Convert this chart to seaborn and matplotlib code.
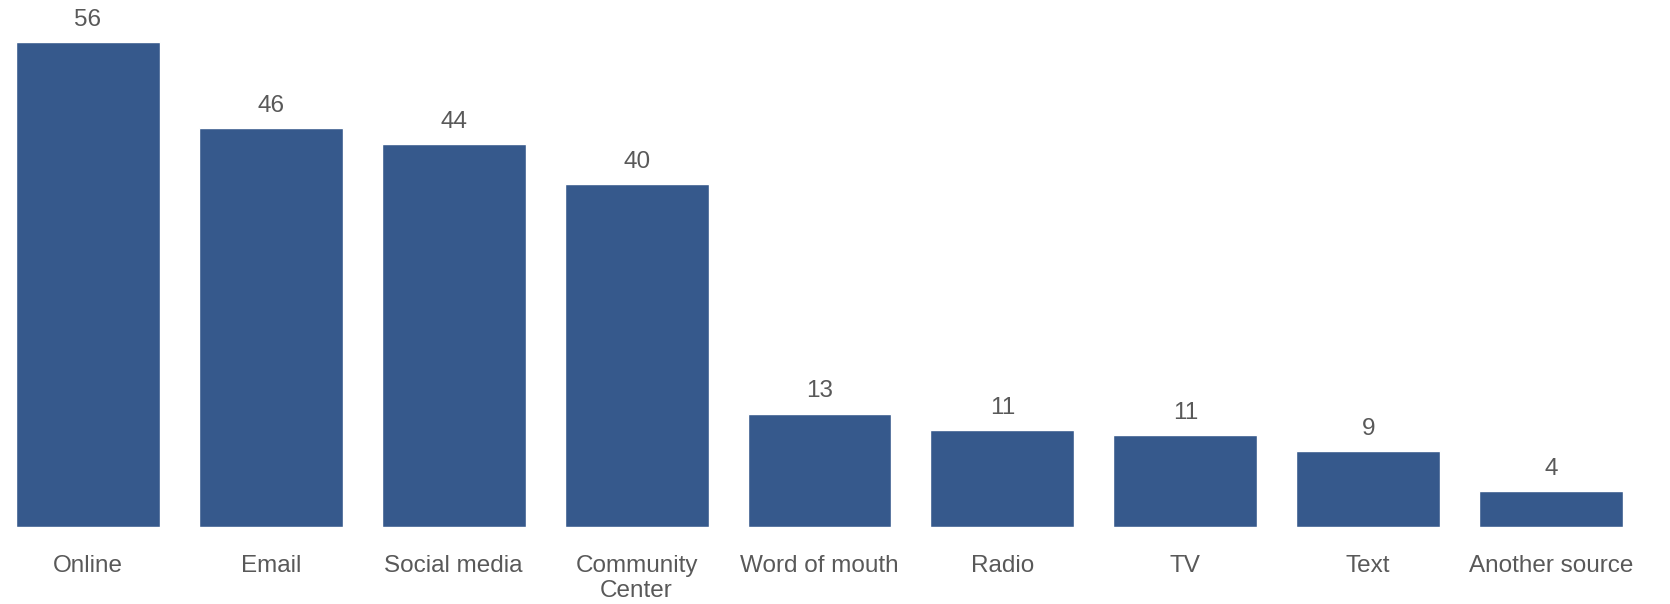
import matplotlib
matplotlib.use("Agg")
import matplotlib.pyplot as plt
import seaborn as sns
import pandas as pd

# data
sources = ["Online", "Email", "Social media", "Community\nCenter", "Word of mouth",
           "Radio", "TV", "Text", "Another source"]
shares = [56.0, 46.1, 44.2, 39.6, 13.1, 11.2, 10.6, 8.8, 4.1]
value_labels = ["56", "46", "44", "40", "13", "11", "11", "9", "4"]

sns.set_style("white")
plt.rcParams["font.family"] = ["Liberation Sans", "DejaVu Sans"]

df = pd.DataFrame({"source": sources, "share": shares})

fig = plt.figure(figsize=(16.7, 6.04), dpi=100)
ax = fig.add_axes([16 / 1670, 1 - 527 / 604, (1623 - 16) / 1670, (527 - 42) / 604])

sns.barplot(data=df, x="source", y="share", color="#36598C", width=0.787,
            saturation=1, ax=ax)

ax.bar_label(ax.containers[0], labels=value_labels, padding=8,
             fontsize=17.5, color="#595959")

half = 0.787 / 2
ax.set_xlim(-half, len(sources) - 1 + half)
ax.set_ylim(0, 56)
ax.set_xlabel("")
ax.set_ylabel("")
ax.set_yticks([])
ax.tick_params(axis="x", length=0, pad=20, labelsize=17.5, labelcolor="#595959")
for s in ax.spines.values():
    s.set_visible(False)

fig.savefig("out.png", dpi=100)
